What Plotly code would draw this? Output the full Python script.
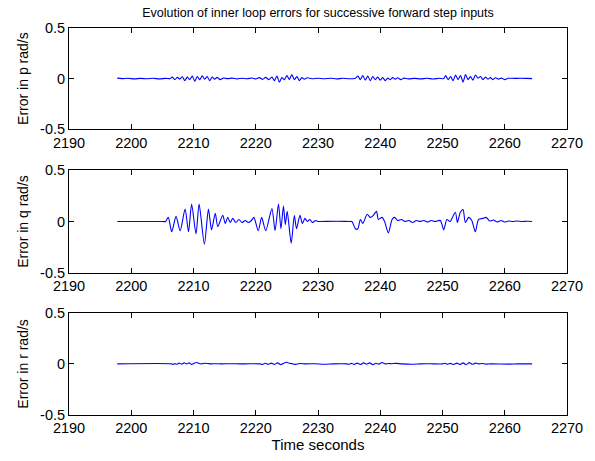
import plotly.graph_objects as go
from plotly.subplots import make_subplots

# Inner-loop rate errors (rad/s) during successive forward step inputs
t_p = [2197.75, 2198.5, 2199.5, 2200.5, 2201.5, 2202.5, 2203.5, 2204.5, 2205.5, 2206.2,
       2206.6, 2207.0, 2207.4, 2207.8, 2208.2, 2208.6, 2209.0, 2209.4, 2209.8, 2210.2,
       2210.6, 2211.0, 2211.4, 2211.8, 2212.2, 2212.6, 2213.0, 2213.4, 2213.8, 2214.3,
       2214.8, 2215.5, 2216.2, 2217.0, 2217.8, 2218.6, 2219.4, 2220.0, 2220.6, 2221.1,
       2221.6, 2222.1, 2222.6, 2223.0, 2223.4, 2223.8, 2224.2, 2224.6, 2225.0, 2225.4,
       2225.8, 2226.2, 2226.6, 2227.0, 2227.4, 2227.8, 2228.3, 2229.0, 2230.0, 2231.0,
       2232.0, 2233.0, 2234.0, 2235.0, 2236.0, 2236.4, 2236.8, 2237.2, 2237.6, 2238.0,
       2238.4, 2238.8, 2239.2, 2239.6, 2240.0, 2240.4, 2240.8, 2241.2, 2241.6, 2242.0,
       2242.4, 2242.8, 2243.3, 2243.8, 2244.5, 2245.5, 2246.5, 2247.5, 2248.5, 2249.5,
       2250.2, 2250.5, 2250.9, 2251.3, 2251.7, 2252.1, 2252.5, 2252.9, 2253.3, 2253.7,
       2254.1, 2254.5, 2254.9, 2255.3, 2255.7, 2256.1, 2256.5, 2256.9, 2257.3, 2257.7,
       2258.1, 2258.5, 2259.0, 2259.5, 2260.0, 2260.5, 2261.5, 2262.5, 2263.5, 2264.4]
err_p = [0.005, 0.0, 0.003, -0.003, 0.002, -0.002, 0.003, -0.003, 0.002, 0.0,
         0.015, -0.01, 0.012, -0.005, 0.018, -0.02, 0.015, -0.01, 0.025, -0.025,
         0.02, -0.01, 0.028, -0.005, 0.02, -0.02, 0.015, -0.005, 0.012, -0.01,
         0.005, 0.0, 0.005, -0.003, 0.004, -0.002, 0.006, -0.004, 0.01, -0.008,
         0.012, -0.01, 0.015, -0.02, 0.025, -0.035, 0.01, -0.01, 0.03, -0.01,
         0.04, -0.01, 0.02, -0.02, 0.01, -0.005, 0.008, -0.002, 0.003, -0.002,
         0.004, -0.003, 0.003, -0.002, 0.004, 0.025, -0.01, 0.03, -0.015, 0.025,
         -0.02, 0.02, -0.01, 0.015, -0.015, 0.01, -0.02, 0.005, -0.01, 0.01,
         -0.005, 0.008, -0.01, 0.005, -0.003, 0.002, -0.003, 0.003, -0.004, 0.004,
         0.0, 0.03, -0.01, 0.02, -0.02, 0.035, -0.01, 0.03, -0.035, 0.04,
         -0.01, 0.02, -0.015, 0.035, 0.005, 0.02, -0.01, 0.015, -0.005, 0.01,
         -0.01, 0.008, -0.005, 0.005, -0.01, 0.003, 0.002, 0.003, 0.002, 0.0]

t_q = [2197.75, 2202.0, 2205.0, 2205.5, 2205.95, 2206.5, 2207.2, 2207.85, 2208.65, 2209.2,
       2209.7, 2210.4, 2210.9, 2211.75, 2212.4, 2212.9, 2213.5, 2213.9, 2214.7, 2215.1,
       2215.5, 2215.9, 2216.3, 2216.8, 2217.3, 2217.8, 2218.3, 2218.8, 2219.3, 2219.7,
       2220.4, 2220.95, 2221.6, 2222.6, 2223.1, 2223.65, 2224.05, 2224.45, 2224.75, 2225.05,
       2225.7, 2226.2, 2226.55, 2227.1, 2227.5, 2227.9, 2228.3, 2228.7, 2229.1, 2229.6,
       2230.0, 2230.5, 2233.0, 2235.0, 2235.45, 2236.0, 2236.4, 2236.8, 2237.2, 2237.9,
       2238.4, 2238.9, 2239.4, 2239.7, 2240.3, 2240.7, 2241.3, 2241.9, 2242.3, 2242.8,
       2243.4, 2244.0, 2244.6, 2245.2, 2245.8, 2246.4, 2247.0, 2247.6, 2248.2, 2248.8,
       2249.65, 2250.2, 2250.7, 2251.2, 2252.06, 2252.4, 2252.86, 2253.3, 2253.67, 2254.2,
       2254.7, 2255.27, 2255.8, 2256.5, 2257.0, 2257.6, 2258.2, 2258.8, 2259.4, 2260.0,
       2260.6, 2261.3, 2262.0, 2262.8, 2263.5, 2264.4]
err_q = [0.0, 0.0, 0.0, 0.0, 0.04, -0.10, 0.05, -0.09, 0.12, -0.10,
         0.17, -0.12, 0.17, -0.22, 0.12, -0.08, 0.08, -0.05, 0.06, -0.02,
         0.04, -0.01, 0.03, -0.01, 0.02, -0.01, 0.01, -0.01, 0.01, 0.04,
         -0.09, 0.04, -0.09, 0.125, -0.09, 0.17, -0.07, 0.15, -0.03, 0.10,
         -0.21, 0.06, -0.07, 0.06, -0.02, 0.03, 0.0, 0.02, -0.01, 0.01,
         0.0, 0.0, 0.003, 0.0, 0.0, -0.07, -0.07, 0.02, -0.02, 0.07,
         0.04, 0.06, 0.10, 0.02, 0.04, 0.0, -0.11, 0.02, 0.04, 0.01,
         0.02, 0.0, 0.01, -0.01, 0.01, 0.0, 0.01, -0.005, 0.01, 0.0,
         0.01, -0.08, 0.02, 0.0, 0.09, -0.01, 0.09, 0.115, -0.01, 0.04,
         0.01, -0.10, 0.02, 0.03, 0.04, 0.005, 0.015, -0.005, 0.01, -0.005,
         0.005, 0.0, 0.005, 0.0, 0.002, 0.0]

t_r = [2197.75, 2206.5, 2206.7, 2207.0, 2207.3, 2207.7, 2208.1, 2208.5, 2208.9, 2209.3,
       2209.7, 2210.1, 2210.5, 2210.9, 2211.3, 2211.8, 2212.3, 2212.8, 2213.5, 2214.5,
       2216.0, 2217.5, 2219.0, 2220.7, 2221.1, 2221.5, 2222.0, 2222.5, 2223.0, 2223.5,
       2224.0, 2224.5, 2225.0, 2225.4, 2225.8, 2226.4, 2227.0, 2228.0, 2229.5, 2231.0,
       2232.5, 2234.6, 2235.0, 2235.4, 2235.8, 2236.3, 2236.8, 2237.3, 2237.8, 2238.3,
       2238.8, 2239.3, 2239.8, 2240.3, 2240.8, 2241.3, 2241.8, 2242.5, 2243.5, 2245.0,
       2246.5, 2248.0, 2250.0, 2250.4, 2250.8, 2251.3, 2251.8, 2252.3, 2252.8, 2253.3,
       2253.8, 2254.3, 2254.8, 2255.3, 2255.8, 2256.3, 2257.0, 2257.7, 2260.8, 2262.0,
       2264.4]
err_r = [0.0, 0.0, -0.005, 0.003, -0.004, 0.008, -0.003, 0.01, 0.0, 0.01,
         -0.005, 0.006, 0.014, 0.004, 0.0, 0.006, 0.004, 0.0, 0.002, 0.0,
         0.002, 0.0, 0.001, 0.0, -0.005, 0.006, -0.004, 0.008, -0.005, 0.01,
         -0.008, 0.006, 0.016, 0.005, 0.003, -0.005, 0.004, 0.0, 0.002, -0.003,
         0.0, 0.0, -0.004, 0.005, -0.005, 0.008, -0.006, 0.01, -0.004, 0.01,
         -0.007, 0.006, -0.002, 0.014, 0.0, 0.004, 0.002, 0.005, 0.0, -0.003,
         0.0, 0.001, 0.0, 0.006, -0.003, 0.005, -0.006, 0.008, -0.006, 0.01,
         -0.008, 0.012, -0.004, 0.008, 0.0, 0.004, -0.002, 0.0, -0.002, 0.0,
         0.0]

x_ticks = [2190, 2200, 2210, 2220, 2230, 2240, 2250, 2260, 2270]
y_ticks = [-0.5, 0, 0.5]
y_titles = ["Error in p rad/s", "Error in q rad/s", "Error in r rad/s"]
series = [(t_p, err_p), (t_q, err_q), (t_r, err_r)]

FONT = "Liberation Sans, Arial, sans-serif"
TICK_FONT = dict(family=FONT, size=14.5, color="black")
LABEL_FONT = dict(family=FONT, size=14, color="black")

fig = make_subplots(rows=3, cols=1)
for i, (t, e) in enumerate(series, start=1):
    fig.add_trace(
        go.Scatter(x=t, y=e, mode="lines",
                   line=dict(color="#0000ff", width=1.1, shape="spline", smoothing=0.7),
                   showlegend=False, hoverinfo="skip"),
        row=i, col=1)

domains = [[0.7385, 1.0], [0.3667, 0.6333], [0.0, 0.2641]]
for i in range(3):
    sx = "xaxis" if i == 0 else f"xaxis{i + 1}"
    sy = "yaxis" if i == 0 else f"yaxis{i + 1}"
    fig.layout[sx].update(
        domain=[0, 1], range=[2190, 2270], tickvals=x_ticks,
        ticks="inside", ticklen=5, tickcolor="black", tickwidth=1,
        showline=True, linecolor="black", linewidth=1, mirror="allticks",
        showgrid=False, zeroline=False, tickfont=TICK_FONT)
    fig.layout[sy].update(
        domain=domains[i], range=[-0.5, 0.5], tickvals=y_ticks,
        ticktext=["-0.5", "0", "0.5"],
        ticks="inside", ticklen=5, tickcolor="black", tickwidth=1,
        showline=True, linecolor="black", linewidth=1, mirror="allticks",
        showgrid=False, zeroline=False, tickfont=TICK_FONT,
        title=dict(text=y_titles[i], font=LABEL_FONT, standoff=8))

fig.layout["xaxis3"].title = dict(text="Time seconds",
                                  font=dict(family=FONT, size=15, color="black"),
                                  standoff=2)

fig.update_layout(
    width=595, height=461,
    margin=dict(l=69, r=28, t=28, b=43),
    paper_bgcolor="white", plot_bgcolor="white",
    title=dict(text="Evolution of inner loop errors for successive forward step inputs",
               x=318 / 595, xanchor="center", y=1 - 13 / 461, yanchor="middle",
               font=dict(family=FONT, size=12.5, color="black")),
)

fig.write_html("out.html")
